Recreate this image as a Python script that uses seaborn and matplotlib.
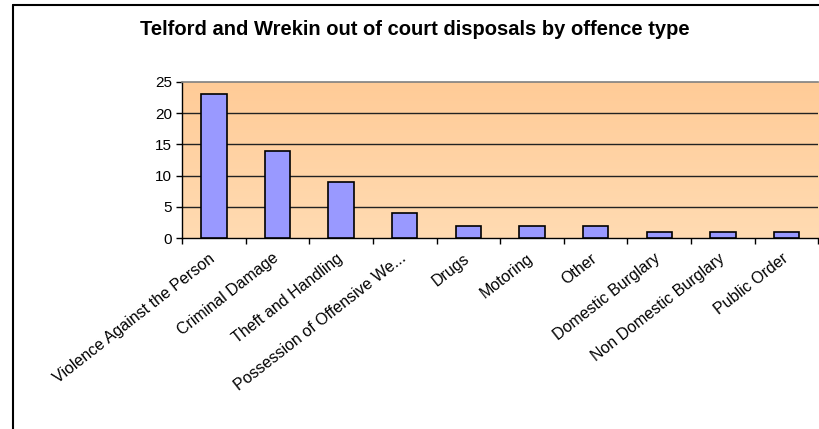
import numpy as np
import pandas as pd
import seaborn as sns
import matplotlib.pyplot as plt
import matplotlib.transforms as mtransforms
from matplotlib.lines import Line2D
from matplotlib.colors import LinearSegmentedColormap

# data
offences = ["Violence Against the Person", "Criminal Damage", "Theft and Handling",
            "Possession of Offensive We...", "Drugs", "Motoring", "Other",
            "Domestic Burglary", "Non Domestic Burglary", "Public Order"]
counts = [23, 14, 9, 4, 2, 2, 2, 1, 1, 1]
y_ticks = [0, 5, 10, 15, 20, 25]

sns.set_style("white")
plt.rcParams['font.family'] = ['Liberation Sans', 'DejaVu Sans']
plt.rcParams['text.color'] = 'black'
plt.rcParams['xtick.color'] = 'black'
plt.rcParams['ytick.color'] = 'black'

df = pd.DataFrame({"Offence": offences, "Count": counts})

fig = plt.figure(figsize=(8.2, 4.29), dpi=100)
ax = fig.add_axes([0.222, 0.445, 0.776, 0.364])

# peach gradient background of the plot area
grad = LinearSegmentedColormap.from_list("peach", ["#FFDBB2", "#FFCB97"])
ax.imshow(np.linspace(0, 1, 256).reshape(-1, 1), aspect="auto", cmap=grad,
          extent=(-0.5, len(offences) - 0.5, 0, 25), origin="lower", zorder=0)

for t in y_ticks[1:-1]:
    ax.axhline(t, color="#222222", lw=1.0, zorder=1)

sns.barplot(data=df, x="Offence", y="Count", color="#9999FF", edgecolor="black",
            linewidth=1.2, width=0.4, saturation=1, ax=ax, zorder=3)

ax.set_xlim(-0.5, len(offences) - 0.5)
ax.set_ylim(0, 25)
ax.set_yticks(y_ticks)
ax.set_xlabel("")
ax.set_ylabel("")

ax.spines["right"].set_visible(False)
ax.spines["top"].set_color("#808080")
ax.spines["top"].set_linewidth(1.2)
ax.spines["left"].set_color("black")
ax.spines["bottom"].set_color("black")
ax.spines["left"].set_linewidth(1.0)
ax.spines["bottom"].set_linewidth(1.0)

ax.tick_params(axis="y", which="major", direction="out", length=4, width=1,
               left=True, labelsize=11, pad=3)
ax.set_xticks(np.arange(-0.5, len(offences)), minor=True)
ax.tick_params(axis="x", which="minor", direction="out", length=4, width=1,
               bottom=True)
ax.tick_params(axis="x", which="major", length=0, labelsize=11.5, pad=9)
ax.set_xticklabels(offences, rotation=38, ha="right", rotation_mode="anchor")
# nudge labels a little left so they end under the category centre
shift = mtransforms.ScaledTranslation(-5 / 100, 0, fig.dpi_scale_trans)
for lbl in ax.get_xticklabels():
    lbl.set_transform(lbl.get_transform() + shift)

fig.text(0.506, 0.932, "Telford and Wrekin out of court disposals by offence type",
         ha="center", va="center", fontsize=14.5, fontweight="bold")

# chart frame (only top and left edges are in view)
fig.add_artist(Line2D([13 / 820, 1.0], [1 - 5 / 429, 1 - 5 / 429],
                      color="black", lw=1.5, transform=fig.transFigure))
fig.add_artist(Line2D([13 / 820, 13 / 820], [0.0, 1 - 5 / 429],
                      color="black", lw=1.5, transform=fig.transFigure))

fig.savefig("out.png", dpi=100)
